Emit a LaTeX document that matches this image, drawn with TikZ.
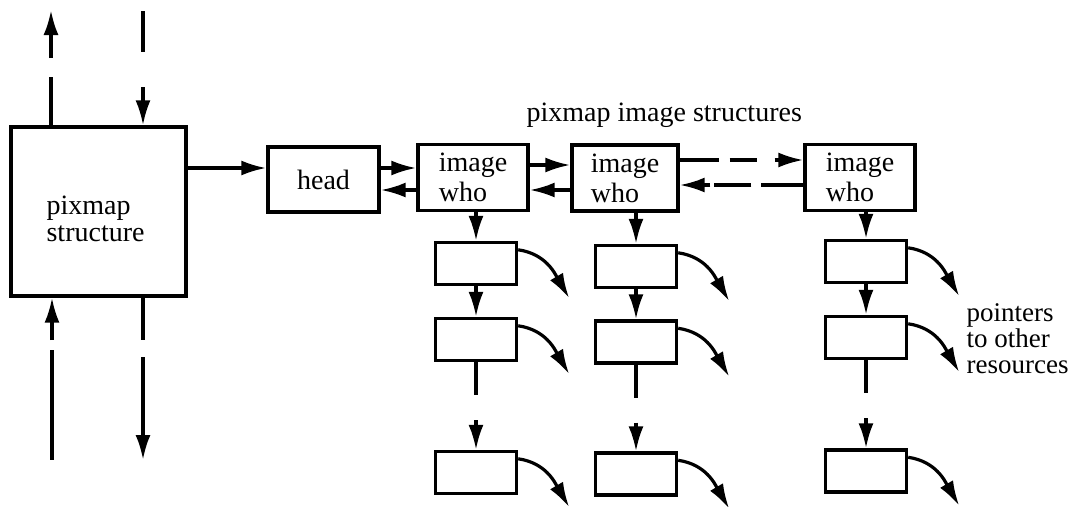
\documentclass[tikz,border=0pt]{standalone}
\usepackage{fontspec}
\setmainfont{Liberation Serif}
\usetikzlibrary{arrows.meta,calc}
\begin{document}
\begin{tikzpicture}[x=1pt,y=-1pt,
  line width=3.2pt,
  arr/.style={-{Latex[length=25pt,width=15pt]}},
  lbl/.style={font=\fontsize{28}{27}\selectfont, inner sep=0pt},
  boxbase/.style={draw, line width=3.4pt, inner sep=0pt, font=\fontsize{28}{27}\selectfont},
  bigbox/.style={boxbase, minimum width=175pt, minimum height=169pt},
  headbox/.style={boxbase, minimum width=111pt, minimum height=65pt},
  imgbox/.style={boxbase, minimum width=#1, minimum height=66pt, align=left, font=\fontsize{28}{30}\selectfont},
  subbox/.style={boxbase, minimum width=81pt, minimum height=42pt},
  ptr/.style={arr}
]
\useasboundingbox (0,0) rectangle (1084,506);

% main boxes
\node[bigbox] (pix) at (98.5,211.5) {};
\node[lbl, align=left, anchor=west] (pixtxt) at (45,219) {pixmap\\structure};
\node[headbox] (head) at (323.5,179.5) {head};
\node[imgbox=110pt] (i1) at (473,177.5) {image\\who};
\node[imgbox=106pt] (i2) at (625,178) {image\\who};
\node[imgbox=110pt] (i3) at (860,177.5) {image\\who};

% sub boxes
\node[subbox] (c1a) at (476,263.5) {};
\node[subbox] (c1b) at (476,339.5) {};
\node[subbox] (c1c) at (476,472.5) {};
\node[subbox] (c2a) at (636,266.5) {};
\node[subbox] (c2b) at (636,342) {};
\node[subbox] (c2c) at (636,474) {};
\node[subbox] (c3a) at (866,261.5) {};
\node[subbox] (c3b) at (866,337.5) {};
\node[subbox] (c3c) at (866,471) {};

% labels
\node[lbl, anchor=base west] (lab) at (525,121) {pixmap image structures};
\node[lbl, anchor=north west, align=left, font=\fontsize{27}{26}\selectfont] (ptrs) at (965,302) {pointers\\to other\\resources};

% left dashed arrows
\coordinate (tl1) at (51,77);
\coordinate (tl2) at (51,58);
\coordinate (tl3) at (51,10);
\draw (pix.north -| tl1) -- (tl1);
\draw[arr] (tl2) -- (tl3);
\coordinate (tr1) at (143,11);
\coordinate (tr2) at (143,52);
\coordinate (tr3) at (143,87);
\draw (tr1) -- (tr2);
\draw[arr] (tr3) -- (pix.north -| tr3);
\coordinate (bl1) at (52,340);
\coordinate (bl2) at (52,350);
\coordinate (bl3) at (52,460);
\draw[arr] (bl1) -- (pix.south -| bl1);
\draw (bl2) -- (bl3);
\coordinate (br1) at (143,340);
\coordinate (br2) at (143,357);
\coordinate (br3) at (143,460);
\draw (pix.south -| br1) -- (br1);
\draw[arr] (br2) -- (br3);

% horizontal links
\draw[arr] (pix.east |- 0,168) -- (head.west |- 0,168);
\draw[arr] (head.east |- 0,168) -- (i1.west |- 0,168);
\draw[arr] (i1.west |- 0,190) -- (head.east |- 0,190);
\draw[arr] (i1.east |- 0,165) -- (i2.west |- 0,165);
\draw[arr] (i2.west |- 0,190) -- (i1.east |- 0,190);
\draw[arr, dash pattern=on 39pt off 11pt on 27pt off 18pt on 60pt] (i2.east |- 0,160) -- (i3.west |- 0,160);
\draw[arr, dash pattern=on 42pt off 10pt on 37pt off 4pt on 60pt] (i3.west |- 0,185) -- (i2.east |- 0,185);

% vertical chains
\foreach \c/\i in {c1/i1, c2/i2, c3/i3} {
  \draw[arr] (\c a.north |- \i.south) -- (\c a.north);
  \draw[arr] (\c a.south) -- (\c b.north);
  \draw (\c b.south) -- ($(\c b.south)+(0,33)$);
  \draw[arr] ($(\c b.south)+(0,58)$) -- (\c c.north);
}

% pointers to other resources
\foreach \b in {c1a,c1b,c1c,c2a,c2b,c2c,c3a,c3b,c3c} {
  \draw[ptr] ($(\b.north east)+(0,9)$) .. controls +(28,4) and +(-14,-24) .. ($(\b.south east)+(51,12)$);
}
\end{tikzpicture}
\end{document}
